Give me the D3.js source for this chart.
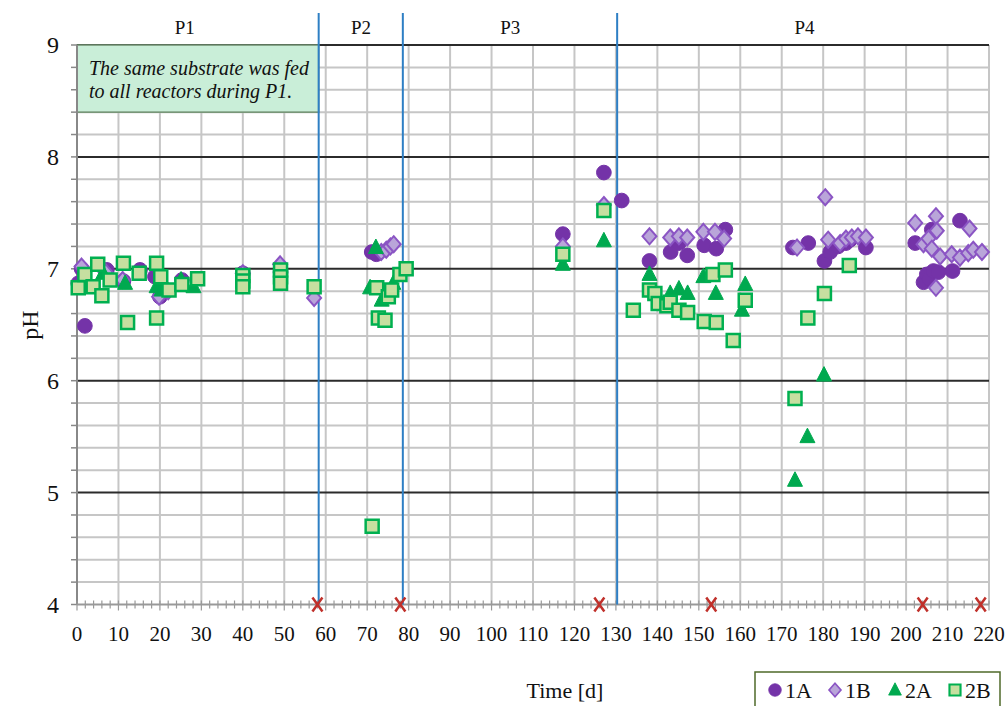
<!DOCTYPE html>
<html>
<head>
<meta charset="utf-8">
<script src="https://cdn.jsdelivr.net/npm/d3@7"></script>
<style>
  body { margin: 0; background: #fff; }
  text { font-family: "Liberation Serif", "DejaVu Serif", serif; }
</style>
</head>
<body>
<div id="chart"></div>
<script>
// data: [day, pH]
const s1A = [[0.3,6.87],[1.1,7.0],[1.9,6.49],[7.2,6.99],[11.2,6.89],[15.2,6.99],[18.8,6.93],[20,6.75],[25.3,6.9],[40,6.96],[49.1,6.97],
  [71.1,7.15],[72.2,7.13],
  [117.2,7.31],[127.1,7.86],[131.4,7.61],
  [138.1,7.07],[143.2,7.15],[145.2,7.23],[147.2,7.12],[151.3,7.21],[154.2,7.18],[156.4,7.35],
  [172.7,7.19],[176.4,7.23],[180.3,7.07],[181.7,7.15],[183.6,7.2],[185.5,7.23],[186.5,7.26],[190.3,7.19],
  [202.2,7.23],[204.2,6.88],[205,6.95],[205.6,6.91],[206.2,7.35],[206.6,6.98],[207.8,6.97],[211.2,6.98],[213,7.43]];
const s1B = [[1.1,7.02],[6.9,6.97],[11,6.9],[19.8,6.75],[22,6.8],[40,6.96],[49,7.04],[57.2,6.74],
  [73.4,7.15],[74.6,7.17],[75.6,7.2],[76.4,7.22],
  [117.2,7.2],[127.1,7.57],
  [138.1,7.29],[143.1,7.28],[145.2,7.29],[147.2,7.28],[151.1,7.33],[153.9,7.33],[156.1,7.27],
  [173.7,7.19],[180.5,7.64],[181.2,7.26],[184.1,7.23],[185.5,7.27],[186.9,7.28],[188.4,7.29],[190.3,7.28],
  [202.2,7.41],[204.2,7.22],[205.4,7.27],[206.2,7.18],[207.2,7.47],[207.4,7.34],[207.2,6.83],[208.2,7.11],[211,7.13],[213,7.1],[215,7.14],[215.3,7.36],[216.2,7.17],[218.3,7.15]];
const s2A = [[6.3,6.96],[11.6,6.87],[19.2,6.84],[20.4,6.81],[25.1,6.9],[28.1,6.84],
  [70.7,6.83],[72.1,7.19],[73.5,6.72],[74.3,6.76],[76.3,6.87],
  [117.2,7.04],[127.1,7.25],
  [138.1,6.95],[143.1,6.78],[145.2,6.82],[147.3,6.78],[151.1,6.93],[154.1,6.78],[160.4,6.63],[161.2,6.86],
  [173.2,5.11],[176.2,5.5],[180.2,6.05]];
const s2B = [[0.3,6.83],[1.9,6.95],[3.9,6.84],[5,7.04],[6,6.76],[8,6.9],[11.2,7.05],[12.2,6.52],[15,6.96],[19.2,7.05],[19.2,6.56],[20.2,6.93],[22.2,6.81],[25.3,6.86],[29.1,6.91],
  [40,6.94],[40,6.89],[40,6.84],[49.1,6.99],[49.1,6.93],[49.1,6.87],[57.2,6.84],
  [71.2,4.7],[72.3,6.83],[72.7,6.56],[74.3,6.54],[75.1,6.75],[75.9,6.81],[77.9,6.95],[79.4,7.0],
  [117.2,7.13],[127.1,7.52],[134.2,6.63],
  [138.1,6.81],[139.4,6.78],[140.2,6.69],[142.3,6.67],[143.1,6.7],[145.2,6.63],[147.3,6.61],[151.3,6.53],[153.4,6.95],[154.2,6.52],[156.4,6.99],[158.3,6.36],[161.2,6.72],
  [173.2,5.84],[176.3,6.56],[180.3,6.78],[186.3,7.03]];
const feedDays = [58, 78, 126, 153, 204, 218];
const periodBounds = [58.3, 78.6, 130.3];
const periods = ["P1", "P2", "P3", "P4"];
const periodMid = [26, 68.5, 104.5, 175.5];
const xTicks = d3.range(0, 221, 10);
const yTicks = [4, 5, 6, 7, 8, 9];

const W = 1008, H = 706;
const m = { left: 77, right: 989, top: 45, bottom: 604.5 };

const svg = d3.select("#chart").append("svg")
  .attr("width", W).attr("height", H);

const x = d3.scaleLinear().domain([0, 220]).range([m.left, m.right]);
const y = d3.scaleLinear().domain([4, 9]).range([m.bottom, m.top]);

const gridColor = "#c6c6c6";

// minor horizontal grid
svg.append("g").selectAll("line")
  .data(d3.range(4.2, 9, 0.2).filter(v => Math.abs(v - Math.round(v)) > 0.01))
  .enter().append("line")
  .attr("x1", m.left).attr("x2", m.right)
  .attr("y1", d => y(d)).attr("y2", d => y(d))
  .attr("stroke", gridColor).attr("stroke-width", 2);

// vertical grid
svg.append("g").selectAll("line")
  .data(xTicks.filter(d => d > 0))
  .enter().append("line")
  .attr("x1", d => x(d)).attr("x2", d => x(d))
  .attr("y1", m.top).attr("y2", m.bottom)
  .attr("stroke", gridColor).attr("stroke-width", 2);

// major horizontal lines
svg.append("g").selectAll("line")
  .data(yTicks.filter(d => d > 4))
  .enter().append("line")
  .attr("x1", m.left).attr("x2", m.right)
  .attr("y1", d => y(d)).attr("y2", d => y(d))
  .attr("stroke", "#2b2b2b").attr("stroke-width", 2);

// note box
svg.append("rect")
  .attr("x", x(0)).attr("y", y(9))
  .attr("width", x(58.3) - x(0)).attr("height", y(8.4) - y(9))
  .attr("fill", "#c9eed8").attr("stroke", "#6f8f6f").attr("stroke-width", 1.5);
const note = svg.append("text").attr("x", x(0) + 12).attr("y", y(9) + 30)
  .attr("font-size", 20).attr("font-style", "italic").attr("fill", "#111");
note.append("tspan").text("The same substrate was fed");
note.append("tspan").attr("x", x(0) + 12).attr("dy", 23).text("to all reactors during P1.");

// y axis
svg.append("line").attr("x1", m.left).attr("x2", m.left)
  .attr("y1", m.top).attr("y2", m.bottom).attr("stroke", "#888").attr("stroke-width", 2);
svg.append("g").selectAll("line")
  .data(d3.range(4, 9.01, 0.2))
  .enter().append("line")
  .attr("x1", m.left - 6).attr("x2", m.left)
  .attr("y1", d => y(d)).attr("y2", d => y(d))
  .attr("stroke", "#888").attr("stroke-width", 1.5);
svg.append("g").selectAll("text")
  .data(yTicks).enter().append("text")
  .attr("x", m.left - 18).attr("y", d => y(d) + 8)
  .attr("text-anchor", "end").attr("font-size", 24).attr("fill", "#111")
  .text(d => d);

// x axis
svg.append("line").attr("x1", m.left).attr("x2", m.right)
  .attr("y1", m.bottom).attr("y2", m.bottom).attr("stroke", "#999").attr("stroke-width", 2);
svg.append("g").selectAll("line")
  .data(d3.range(0, 221, 2))
  .enter().append("line")
  .attr("x1", d => x(d)).attr("x2", d => x(d))
  .attr("y1", m.bottom - 4).attr("y2", d => m.bottom + (d % 10 === 0 ? 6 : 4))
  .attr("stroke", "#999").attr("stroke-width", 1.2);
svg.append("g").selectAll("text")
  .data(xTicks).enter().append("text")
  .attr("x", d => x(d)).attr("y", m.bottom + 36)
  .attr("text-anchor", "middle").attr("font-size", 21).attr("fill", "#111")
  .text(d => d);

// period boundaries
svg.append("g").selectAll("line")
  .data(periodBounds).enter().append("line")
  .attr("x1", d => x(d)).attr("x2", d => x(d))
  .attr("y1", 13).attr("y2", m.bottom)
  .attr("stroke", "#2e7fc4").attr("stroke-width", 2);
svg.append("g").selectAll("text")
  .data(periods).enter().append("text")
  .attr("x", (d, i) => x(periodMid[i])).attr("y", 34)
  .attr("text-anchor", "middle").attr("font-size", 19).attr("fill", "#111")
  .text(d => d);

// markers
const sym = (type, size) => d3.symbol().type(type).size(size)();
function drawSeries(data, path, fill, stroke, sw) {
  svg.append("g").selectAll("path")
    .data(data).enter().append("path")
    .attr("d", path)
    .attr("transform", d => `translate(${x(d[0])},${y(d[1])})`)
    .attr("fill", fill).attr("stroke", stroke).attr("stroke-width", sw);
}
const circlePath = sym(d3.symbolCircle, 170);
const diamondPath = "M0,-8L7,0L0,8L-7,0Z";
const trianglePath = "M0,-8.5L7.5,6L-7.5,6Z";
const squarePath = "M-6.5,-6.5H6.5V6.5H-6.5Z";
drawSeries(s1A, circlePath, "#7433a8", "#7433a8", 1);
drawSeries(s1B, diamondPath, "#b9a5d9", "#8b55c4", 2);
drawSeries(s2A, trianglePath, "#00a94f", "#00a94f", 1);
drawSeries(s2B, squarePath, "#c6dfa0", "#00b050", 2.5);

// feed change markers
svg.append("g").selectAll("path")
  .data(feedDays).enter().append("path")
  .attr("d", "M-5,-7L5,7M5,-7L-5,7")
  .attr("transform", d => `translate(${x(d)},${y(4)})`)
  .attr("stroke", "#c0302a").attr("stroke-width", 2.5).attr("fill", "none");

// axis titles
svg.append("text").attr("x", 565).attr("y", 698)
  .attr("text-anchor", "middle").attr("font-size", 22).attr("fill", "#111").text("Time [d]");
svg.append("text").attr("transform", "translate(38,325) rotate(-90)")
  .attr("text-anchor", "middle").attr("font-size", 24).attr("fill", "#111").text("pH");

// legend
const lg = svg.append("g");
lg.append("rect").attr("x", 755).attr("y", 672).attr("width", 245).attr("height", 40)
  .attr("fill", "#fff").attr("stroke", "#4f6a2a").attr("stroke-width", 1.5);
const legendItems = [
  { name: "1A", path: circlePath, fill: "#7433a8", stroke: "#7433a8", sw: 1 },
  { name: "1B", path: diamondPath, fill: "#b9a5d9", stroke: "#8b55c4", sw: 2 },
  { name: "2A", path: trianglePath, fill: "#00a94f", stroke: "#00a94f", sw: 1 },
  { name: "2B", path: squarePath, fill: "#c6dfa0", stroke: "#00b050", sw: 2.5 }
];
legendItems.forEach((it, i) => {
  const gx = 775 + i * 60;
  lg.append("path").attr("d", it.path).attr("transform", `translate(${gx},690) scale(0.85)`)
    .attr("fill", it.fill).attr("stroke", it.stroke).attr("stroke-width", it.sw);
  lg.append("text").attr("x", gx + 10).attr("y", 698).attr("font-size", 22).attr("fill", "#111").text(it.name);
});
</script>
</body>
</html>
